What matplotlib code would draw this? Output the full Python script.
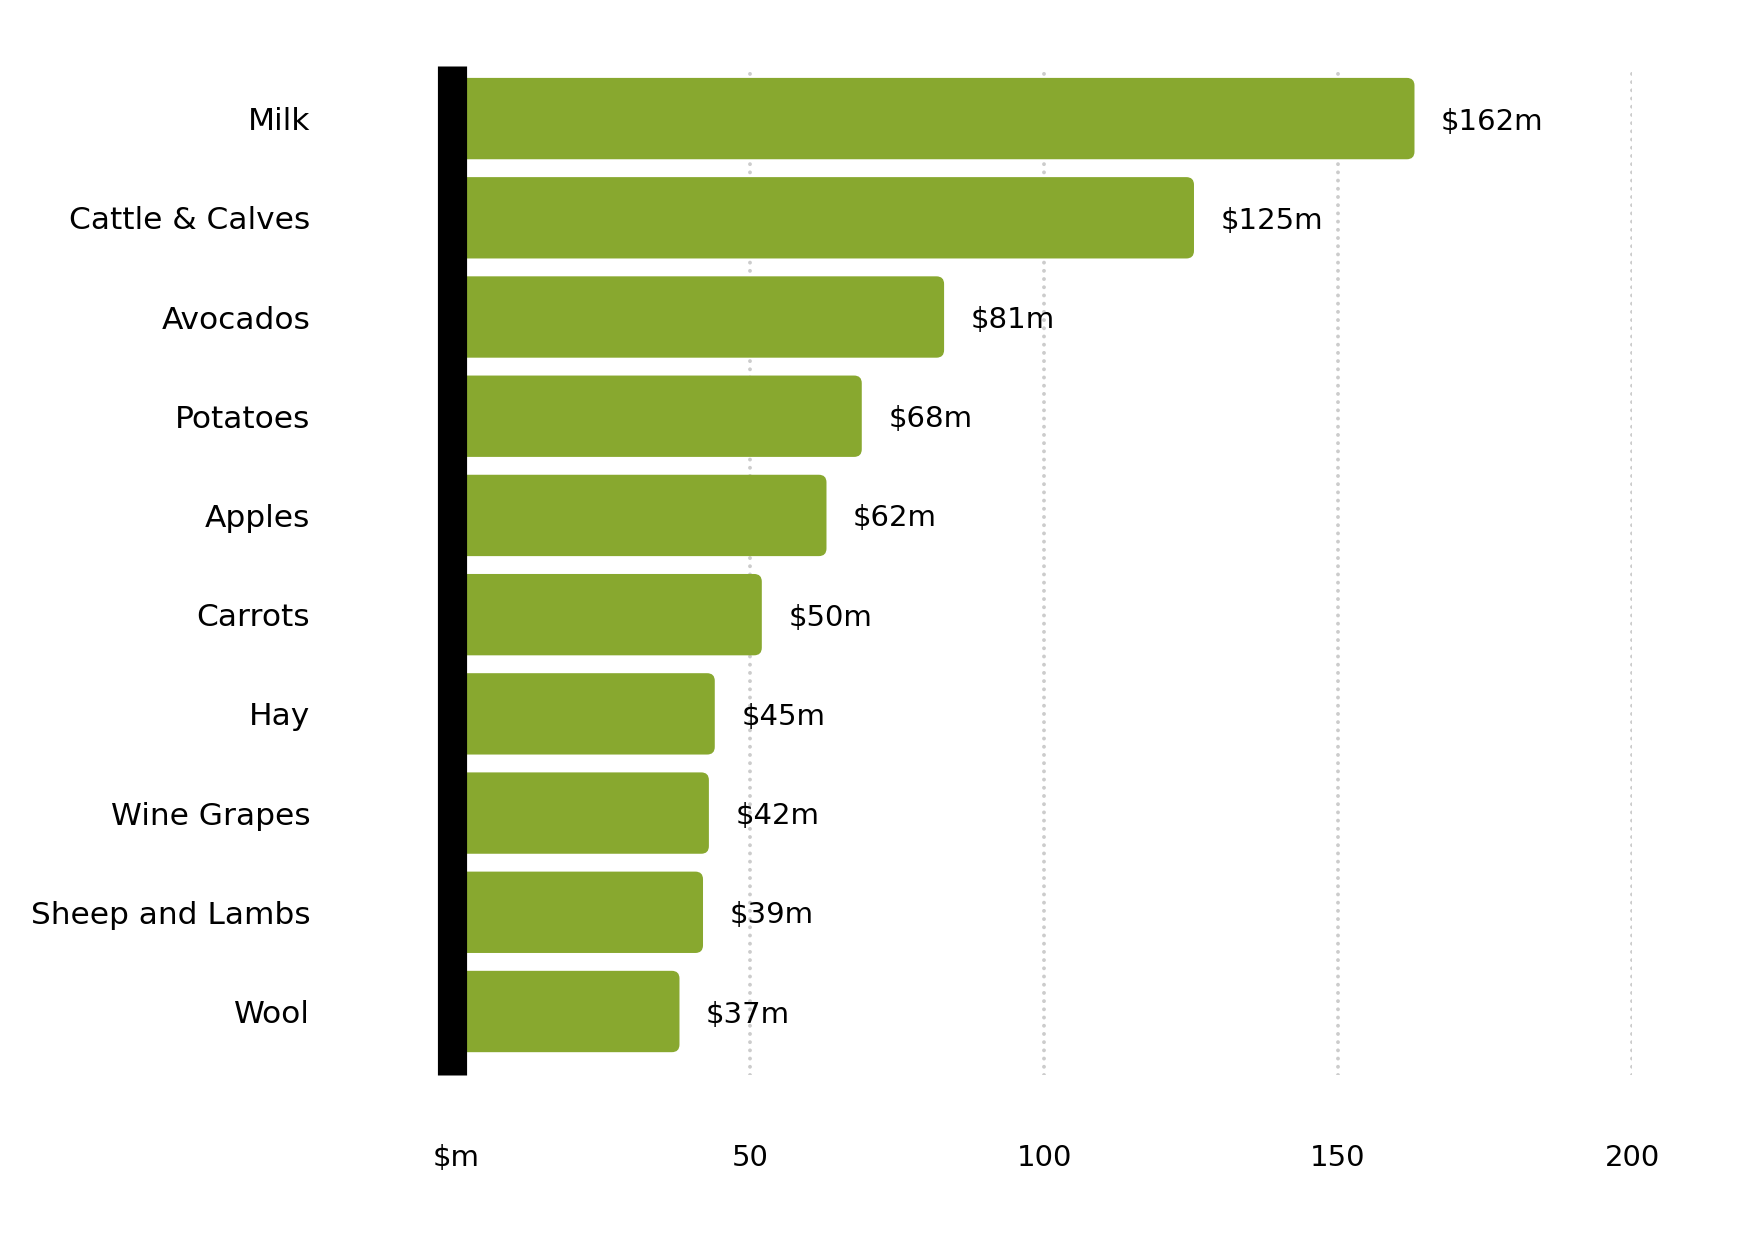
import matplotlib
matplotlib.use('Agg')
import matplotlib.pyplot as plt
from matplotlib.patches import FancyBboxPatch

crops = ['Milk', 'Cattle & Calves', 'Avocados', 'Potatoes', 'Apples',
         'Carrots', 'Hay', 'Wine Grapes', 'Sheep and Lambs', 'Wool']
# bar lengths as drawn in the picture, and the printed value labels
bar_lengths = [163, 125.5, 83, 69, 63, 52, 44, 43, 42, 38]
value_labels = ['$162m', '$125m', '$81m', '$68m', '$62m',
                '$50m', '$45m', '$42m', '$39m', '$37m']
tick_vals = [0, 50, 100, 150, 200]
tick_labels = ['$m', '50', '100', '150', '200']

plt.rcParams['font.family'] = ['DejaVu Sans']
FS = 21

fig = plt.figure(figsize=(17.5, 12.5), dpi=100)
ax = fig.add_axes([0.2606, 0.14, 0.672, 0.8072])
ax.set_xlim(0, 200)
ax.set_ylim(9.64, -0.53)

for s in ['top', 'right', 'bottom']:
    ax.spines[s].set_visible(False)
left = ax.spines['left']
left.set_position(('outward', 3))
left.set_linewidth(21)
left.set_color('black')
left.set_capstyle('butt')
left.set_zorder(3)

# px per data unit, used to keep the corner rounding circular
px_x = 0.672 * 1750 / 200
px_y = 0.8072 * 1250 / 10.17
aspect = px_x / px_y

bar_h = 0.82
for i, v in enumerate(bar_lengths):
    box = FancyBboxPatch((0, i - bar_h / 2), v, bar_h,
                         boxstyle='round,pad=0,rounding_size=1.3',
                         mutation_aspect=aspect,
                         facecolor='#88a82f', edgecolor='none', zorder=2)
    ax.add_patch(box)
    ax.annotate(value_labels[i], (v, i), xytext=(19, 0), textcoords='offset points',
                va='center_baseline', ha='left', fontsize=FS, color='black')

ax.set_yticks(range(len(crops)))
ax.set_yticklabels(crops)
ax.set_xticks(tick_vals)
ax.set_xticklabels(tick_labels)
ax.tick_params(axis='y', length=0, pad=102, labelsize=22.5)
ax.tick_params(axis='x', length=0, pad=50, labelsize=FS)

ax.grid(axis='x', color='#cccccc', linewidth=2.8, linestyle=(0, (0.01, 2.1)),
        dash_capstyle='round', zorder=0)
ax.grid(axis='y', visible=False)
ax.set_axisbelow(True)

fig.savefig('out.png', dpi=100, facecolor='white')
